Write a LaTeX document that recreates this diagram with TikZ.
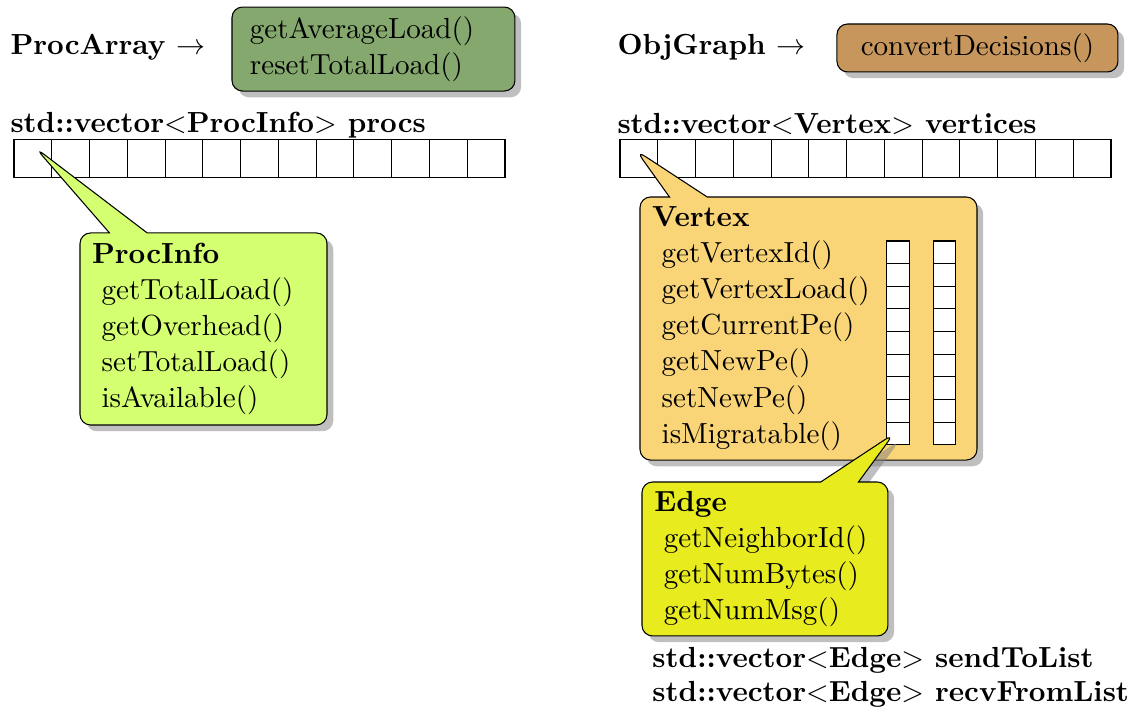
\documentclass[11pt,tikz,border=0pt]{standalone}
\usetikzlibrary{shapes.callouts,shadows}

\definecolor{loadgreen}{RGB}{132,168,110}
\definecolor{decbrown}{RGB}{198,150,92}
\definecolor{infolime}{RGB}{212,255,112}
\definecolor{vertorange}{RGB}{250,213,120}
\definecolor{edgeyellow}{RGB}{232,236,30}
\newcommand{\ind}{\hspace*{3.6pt}}

\begin{document}
\begin{tikzpicture}[
  cell/.style={draw,fill=white,minimum size=0.5cm,inner sep=0pt},
  smallcell/.style={draw,fill=white,minimum size=0.3cm,inner sep=0pt},
  title/.style={anchor=base west,inner sep=0pt,font=\bfseries},
  methods/.style={draw,rounded corners,drop shadow,inner ysep=0pt},
  info/.style={rectangle callout,draw,rounded corners,drop shadow,
    callout pointer width=0.5cm,align=left,inner xsep=0.16cm,inner ysep=0pt}]

\useasboundingbox (0,0) rectangle (14.933,-9.412);

% class headers
\node[title] (procArray) at (0.132,-0.715) {ProcArray $\rightarrow$};
\node[methods,fill=loadgreen,minimum width=3.746cm,minimum height=1.112cm,
  text width=3.27cm,inner xsep=0.238cm,align=left] (loadMethods) at (4.944,-0.649)
  {getAverageLoad()\\resetTotalLoad()};

\node[title] (objGraph) at (8.168,-0.715) {ObjGraph $\rightarrow$};
\node[methods,fill=decbrown,minimum width=3.72cm,minimum height=0.635cm] (graphMethods)
  at (12.94,-0.635) {convertDecisions()};

% arrays
\node[title] (procsLabel) at (0.132,-1.76) {std::vector$<$ProcInfo$>$ procs};
\node[title] (vertLabel) at (8.168,-1.77) {std::vector$<$Vertex$>$ vertices};

\foreach \i in {0,...,12} {
  \node[cell] (p\i) at (0.435+0.5*\i,-2.098) {};
  \node[cell] (v\i) at (8.458+0.5*\i,-2.098) {};
}

% callouts
\node[info,fill=infolime,minimum width=3.27cm,minimum height=2.542cm,text width=2.95cm,
  callout absolute pointer={([xshift=1pt,yshift=4pt]p0.center)}] (procInfo) at (2.694,-4.355)
  {\textbf{ProcInfo}\\\ind getTotalLoad()\\\ind getOverhead()\\\ind setTotalLoad()\\\ind isAvailable()};

\node[info,fill=vertorange,minimum width=4.461cm,minimum height=3.482cm,text width=4.14cm,
  callout absolute pointer={([xshift=-1pt,yshift=3pt]v0.center)}] (vertex) at (10.703,-4.349)
  {\textbf{Vertex}\\\ind getVertexId()\\\ind getVertexLoad()\\\ind getCurrentPe()\\\ind getNewPe()\\\ind setNewPe()\\\ind isMigratable()};

\foreach \i in {0,...,8} {
  \node[smallcell] (a\i) at (11.888,-3.34-0.3*\i) {};
  \node[smallcell] (b\i) at (12.503,-3.34-0.3*\i) {};
}

\node[info,fill=edgeyellow,minimum width=3.256cm,minimum height=2.038cm,text width=2.93cm,
  callout absolute pointer={([xshift=-1.5pt]a8.center)}] (edge) at (10.127,-7.4)
  {\textbf{Edge}\\\ind getNeighborId()\\\ind getNumBytes()\\\ind getNumMsg()};

\node[title] (sendList) at (8.631,-8.83) {std::vector$<$Edge$>$ sendToList};
\node[title] (recvList) at (8.631,-9.293) {std::vector$<$Edge$>$ recvFromList};
\end{tikzpicture}
\end{document}
